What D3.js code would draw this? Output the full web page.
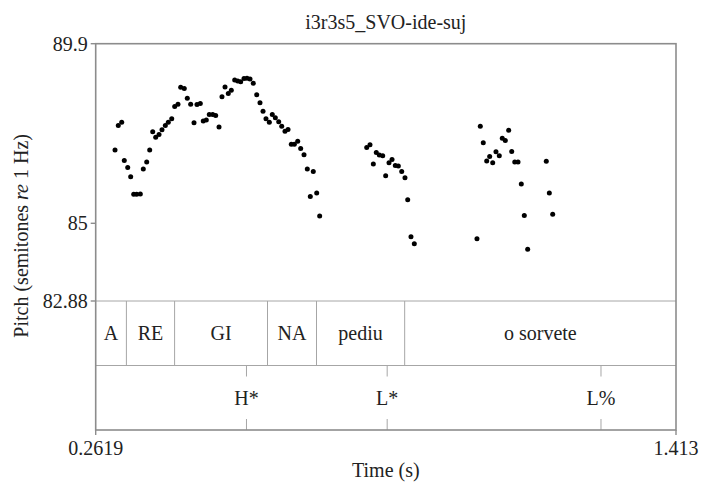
<!DOCTYPE html>
<html>
<head>
<meta charset="utf-8">
<script src="https://cdn.jsdelivr.net/npm/d3@7"></script>
<style>
  html, body { margin: 0; padding: 0; background: #fff; }
  svg { display: block; }
  text { font-family: "Liberation Serif", "Times New Roman", serif; fill: #222; }
</style>
</head>
<body>
<svg id="chart" width="701" height="483"></svg>
<script>
// Pitch track (time in s, pitch in semitones re 1 Hz)
const pitchTimes = [
  0.3002, 0.3067, 0.3135, 0.3186, 0.3254, 0.3313, 0.3373, 0.3432, 0.3504, 0.3563,
  0.3631, 0.3690, 0.3750, 0.3809, 0.3875, 0.3934, 0.4000, 0.4059, 0.4127, 0.4186,
  0.4251, 0.4305, 0.4376, 0.4436, 0.4503, 0.4569, 0.4628, 0.4694, 0.4753, 0.4813,
  0.4872, 0.4940, 0.4999, 0.5065, 0.5124, 0.5184, 0.5249, 0.5309, 0.5376, 0.5436,
  0.5495, 0.5561, 0.5620, 0.5680, 0.5745, 0.5813, 0.5878, 0.5938, 0.5997, 0.6063,
  0.6122, 0.6182, 0.6249, 0.6309, 0.6374, 0.6434, 0.6499, 0.6559, 0.6626, 0.6685,
  0.6751, 0.6816, 0.6876, 0.6935, 0.7003, 0.7062,
  0.7995, 0.8060, 0.8126, 0.8185, 0.8245, 0.8312, 0.8371, 0.8437, 0.8497, 0.8562,
  0.8622, 0.8689, 0.8754, 0.8808, 0.8873, 0.8939,
  1.0182, 1.0248, 1.0307, 1.0375, 1.0434, 1.0494, 1.0559, 1.0625, 1.0684, 1.0744,
  1.0811, 1.0871, 1.0932, 1.0996, 1.1061, 1.1121, 1.1188, 1.1557, 1.1617, 1.1684
];
const pitchValues = [
  87.00, 87.67, 87.76, 86.71, 86.52, 86.27, 85.79, 85.79, 85.80, 86.48,
  86.67, 87.00, 87.50, 87.35, 87.42, 87.55, 87.67, 87.76, 87.85, 88.19,
  88.25, 88.71, 88.68, 88.41, 88.25, 87.74, 88.24, 88.27, 87.79, 87.82,
  87.97, 87.97, 87.94, 87.63, 88.45, 88.72, 88.54, 88.63, 88.91, 88.88,
  88.86, 88.95, 88.96, 88.94, 88.82, 88.51, 88.29, 88.06, 87.85, 87.76,
  87.97, 87.88, 87.77, 87.65, 87.51, 87.56, 87.16, 87.16, 87.24, 87.04,
  86.87, 86.48, 85.73, 86.41, 85.83, 85.20,
  87.07, 87.14, 86.62, 86.93, 86.86, 86.84, 86.30, 86.65, 86.74, 86.58,
  86.56, 86.41, 86.24, 85.64, 84.63, 84.44,
  84.58, 87.65, 87.20, 86.70, 86.82, 86.65, 86.95, 86.84, 87.32, 87.26,
  87.54, 86.96, 86.67, 86.67, 86.07, 85.21, 84.29, 86.69, 85.83, 85.25
];

// Word tier: interval boundaries and labels
const wordBounds = [0.2619, 0.3228, 0.4184, 0.6027, 0.6999, 0.8748, 1.413];
const wordLabels = ["A", "RE", "GI", "NA", "pediu", "o sorvete"];

// Tone tier: point events
const toneTimes = [0.5610, 0.8401, 1.2642];
const toneLabels = ["H*", "L*", "L%"];

// Axis ticks
const yTicks = [82.88, 85, 89.9];
const yTickLabels = ["82.88", "85", "89.9"];
const xTicks = [0.2619, 1.413];
const xTickLabels = ["0.2619", "1.413"];

const title = "i3r3s5_SVO-ide-suj";

const svg = d3.select("#chart");
const plotLeft = 95.7, plotRight = 676, plotTop = 43.7, pitchBottom = 301;
const tierH = 64.5;
const plotBottom = pitchBottom + 2 * tierH;

const x = d3.scaleLinear().domain([0.2619, 1.413]).range([plotLeft, plotRight]);
const y = d3.scaleLinear().domain([82.88, 89.9]).range([pitchBottom, plotTop]);

const frameColor = "#8c8c8c";
const innerColor = "#a6a6a6";
const fontSize = 20;

// Tier separators
svg.append("g").selectAll("line")
  .data([pitchBottom, pitchBottom + tierH])
  .join("line")
  .attr("x1", plotLeft).attr("x2", plotRight)
  .attr("y1", d => d).attr("y2", d => d)
  .attr("stroke", innerColor).attr("stroke-width", 1);

// Word boundaries
svg.append("g").selectAll("line")
  .data(wordBounds.slice(1, -1))
  .join("line")
  .attr("x1", d => x(d)).attr("x2", d => x(d))
  .attr("y1", pitchBottom).attr("y2", pitchBottom + tierH)
  .attr("stroke", innerColor).attr("stroke-width", 1);

// Word labels
svg.append("g").selectAll("text")
  .data(wordLabels)
  .join("text")
  .attr("x", (d, i) => (x(wordBounds[i]) + x(wordBounds[i + 1])) / 2)
  .attr("y", pitchBottom + tierH / 2 + 7)
  .attr("text-anchor", "middle")
  .attr("font-size", fontSize)
  .text(d => d);

// Tone points: short marks at top and bottom of the tier, label centred
const tone = svg.append("g").selectAll("g")
  .data(toneTimes.map((t, i) => ({ t, label: toneLabels[i] })))
  .join("g");
tone.append("line")
  .attr("x1", d => x(d.t)).attr("x2", d => x(d.t))
  .attr("y1", pitchBottom + tierH).attr("y2", pitchBottom + tierH + 11)
  .attr("stroke", innerColor);
tone.append("line")
  .attr("x1", d => x(d.t)).attr("x2", d => x(d.t))
  .attr("y1", plotBottom - 11).attr("y2", plotBottom)
  .attr("stroke", innerColor);
tone.append("text")
  .attr("x", d => x(d.t))
  .attr("y", pitchBottom + tierH + tierH / 2 + 7)
  .attr("text-anchor", "middle")
  .attr("font-size", fontSize)
  .text(d => d.label);

// Outer frame
svg.append("rect")
  .attr("x", plotLeft).attr("y", plotTop)
  .attr("width", plotRight - plotLeft).attr("height", plotBottom - plotTop)
  .attr("fill", "none").attr("stroke", frameColor).attr("stroke-width", 1.6);

// Pitch points
svg.append("g").selectAll("circle")
  .data(pitchTimes.map((t, i) => [t, pitchValues[i]]))
  .join("circle")
  .attr("cx", d => x(d[0])).attr("cy", d => y(d[1]))
  .attr("r", 2.5).attr("fill", "#000");

// Y axis ticks
const yAxis = svg.append("g").selectAll("g")
  .data(yTicks.map((v, i) => ({ v, label: yTickLabels[i] })))
  .join("g");
yAxis.append("line")
  .attr("x1", plotLeft - 5).attr("x2", plotLeft)
  .attr("y1", d => y(d.v)).attr("y2", d => y(d.v))
  .attr("stroke", frameColor).attr("stroke-width", 1.4);
yAxis.append("text")
  .attr("x", plotLeft - 8).attr("y", d => y(d.v))
  .attr("dy", "0.34em")
  .attr("text-anchor", "end")
  .attr("font-size", fontSize)
  .text(d => d.label);

// X axis ticks
const xAxis = svg.append("g").selectAll("g")
  .data(xTicks.map((v, i) => ({ v, label: xTickLabels[i] })))
  .join("g");
xAxis.append("line")
  .attr("x1", d => x(d.v)).attr("x2", d => x(d.v))
  .attr("y1", plotBottom).attr("y2", plotBottom + 5)
  .attr("stroke", frameColor).attr("stroke-width", 1.4);
xAxis.append("text")
  .attr("x", d => x(d.v)).attr("y", plotBottom + 25)
  .attr("text-anchor", "middle")
  .attr("font-size", fontSize)
  .text(d => d.label);

// Axis titles
svg.append("text")
  .attr("x", (plotLeft + plotRight) / 2).attr("y", 477)
  .attr("text-anchor", "middle")
  .attr("font-size", fontSize)
  .text("Time (s)");

const yLabel = svg.append("text")
  .attr("transform", `translate(28,${(plotTop + plotBottom) / 2 - 1}) rotate(-90)`)
  .attr("text-anchor", "middle")
  .attr("font-size", fontSize);
yLabel.append("tspan").text("Pitch (semitones ");
yLabel.append("tspan").attr("font-style", "italic").text("re");
yLabel.append("tspan").text(" 1 Hz)");

svg.append("text")
  .attr("x", (plotLeft + plotRight) / 2).attr("y", 29)
  .attr("text-anchor", "middle")
  .attr("font-size", fontSize)
  .text(title);
</script>
</body>
</html>
